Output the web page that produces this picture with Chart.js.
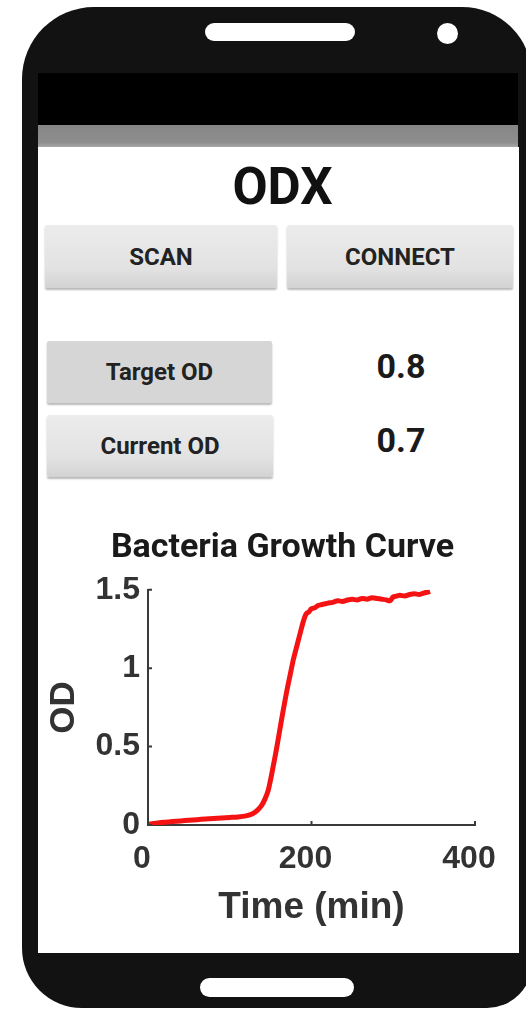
<!DOCTYPE html>
<html>
<head>
<meta charset="utf-8">
<title>ODX - Bacteria Growth Curve</title>
<script src="https://cdn.jsdelivr.net/npm/chart.js@4.4.1/dist/chart.umd.min.js"></script>
<style>
    html, body { margin: 0; padding: 0; background: #fff; overflow: hidden; }
    body { width: 526px; height: 1009px; position: relative; font-family: Roboto, 'Noto Sans', sans-serif; }
    .phone { position: absolute; left: 22px; top: 7px; width: 510px; height: 1001px; background: #121212;
             border-radius: 72px 70px 45px 60px; }
    .speaker { position: absolute; left: 205px; top: 23px; width: 150px; height: 18px; background: #fff; border-radius: 9px; }
    .camera { position: absolute; left: 437px; top: 23px; width: 21px; height: 21px; background: #fff; border-radius: 50%; }
    .status-bar { position: absolute; left: 38px; top: 73px; width: 480px; height: 52px; background: #000; }
    .action-bar { position: absolute; left: 38px; top: 125px; width: 480px; height: 22px; background: linear-gradient(#868686, #8e8e8e 80%, #a8a8a8); }
    .screen { position: absolute; left: 38px; top: 147px; width: 481px; height: 806px; background: #fff; }
    .home { position: absolute; left: 200px; top: 978px; width: 154px; height: 19px; background: #fff; border-radius: 10px; }
    .app-title { position: absolute; left: 180px; top: 158px; width: 205px; text-align: center; font: bold 51px Roboto, sans-serif; color: #111; line-height: 58px; }
    .btn { position: absolute; display: flex; align-items: center; justify-content: center;
           font: bold 24px Roboto, sans-serif; color: #222;
           background: linear-gradient(#ececec, #e2e2e2 70%, #d2d2d2);
           box-shadow: 0 2px 2px rgba(0,0,0,0.28); border-radius: 2px; }
    .btn.flat { background: #d6d6d6; }
    .value { position: absolute; width: 120px; text-align: center; font: bold 34px Roboto, sans-serif; color: #1a1a1a; }
    .chart-box { position: absolute; left: 40px; top: 520px; width: 485px; height: 420px; }
</style>
</head>
<body>
<div class="phone"></div>
<div class="speaker"></div>
<div class="camera"></div>
<div class="status-bar"></div>
<div class="action-bar"></div>
<div class="screen"></div>
<div class="home"></div>

<div class="app-title">ODX</div>
<div class="btn" style="left:45px; top:225px; width:232px; height:63px;">SCAN</div>
<div class="btn" style="left:287px; top:225px; width:226px; height:63px;">CONNECT</div>
<div class="btn flat" style="left:47px; top:341px; width:225px; height:62px;">Target OD</div>
<div class="btn" style="left:47px; top:415px; width:226px; height:62px;">Current OD</div>
<div class="value" style="left:341px; top:346px;">0.8</div>
<div class="value" style="left:341px; top:420px;">0.7</div>

<div class="chart-box"><canvas id="growthChart"></canvas></div>

<script>
// growth curve (time in minutes, optical density)
const timeMin = [0, 10, 20, 30, 40, 50, 60, 70, 80, 90, 100, 110, 120, 128, 134, 139, 143, 147, 150, 153,
    157, 161, 165, 170, 174, 178, 182, 186, 189, 192, 194, 197, 200, 204, 208, 212, 216, 220, 226, 232,
    238, 244, 250, 256, 262, 268, 274, 280, 286, 292, 296, 300, 304, 308, 314, 320, 326, 332, 338, 342, 345];
const odValues = [0.005, 0.012, 0.018, 0.022, 0.026, 0.03, 0.034, 0.038, 0.042, 0.045, 0.048, 0.051, 0.058, 0.072, 0.095, 0.125, 0.165, 0.22, 0.29, 0.37,
    0.48, 0.6, 0.72, 0.86, 0.96, 1.06, 1.14, 1.22, 1.28, 1.33, 1.35, 1.36, 1.38, 1.385, 1.40, 1.405, 1.41, 1.415, 1.42, 1.43,
    1.425, 1.435, 1.44, 1.435, 1.445, 1.44, 1.45, 1.445, 1.44, 1.435, 1.43, 1.455, 1.46, 1.465, 1.46, 1.47, 1.475, 1.47, 1.48, 1.485, 1.49];

const xTicks = [0, 200, 400];
const yTicks = [0, 0.5, 1, 1.5];
const xTickLabels = ['0', '200', '400'];
const yTickLabels = ['0', '0.5', '1', '1.5'];

const axisColor = '#3a3a3a';
const axisFont = { family: "'Liberation Sans', Arial, sans-serif", size: 32, weight: 'bold' };

// small tick marks pointing into the plot, like the original figure
const innerTicks = {
    id: 'innerTicks',
    afterDraw(chart) {
        const ctx = chart.ctx;
        const xs = chart.scales.x;
        const ys = chart.scales.y;
        ctx.save();
        ctx.strokeStyle = axisColor;
        ctx.lineWidth = 2;
        ctx.beginPath();
        xTicks.forEach(v => {
            const px = xs.getPixelForValue(v);
            ctx.moveTo(px, xs.top);
            ctx.lineTo(px, xs.top - 4);
        });
        yTicks.forEach(v => {
            const py = ys.getPixelForValue(v);
            ctx.moveTo(ys.right, py);
            ctx.lineTo(ys.right + 4, py);
        });
        ctx.stroke();
        ctx.restore();
    }
};

const ctx = document.getElementById('growthChart').getContext('2d');
const growthChart = new Chart(ctx, {
    type: 'line',
    data: {
        datasets: [{
            label: 'OD',
            data: timeMin.map((t, i) => ({ x: t, y: odValues[i] })),
            borderColor: '#f51212',
            borderWidth: 5,
            pointRadius: 0,
            tension: 0.2,
            fill: false
        }]
    },
    options: {
        responsive: true,
        maintainAspectRatio: false,
        animation: false,
        layout: { padding: 0 },
        plugins: {
            legend: { display: false },
            tooltip: { enabled: false },
            title: {
                display: true,
                text: 'Bacteria Growth Curve',
                color: '#1a1a1a',
                font: { family: 'Roboto, sans-serif', size: 34, weight: 'bold' },
                padding: { top: 8, bottom: 21 }
            }
        },
        scales: {
            x: {
                type: 'linear',
                min: 0,
                max: 400,
                afterBuildTicks: (scale) => { scale.ticks = xTicks.map(v => ({ value: v })); },
                afterFit: (scale) => { scale.height = 115; },
                grid: { display: true, drawOnChartArea: false, drawTicks: false },
                border: { display: true, color: axisColor, width: 2 },
                ticks: {
                    color: '#333',
                    font: axisFont,
                    padding: 15,
                    labelOffset: -6,
                    callback: (value) => xTickLabels[xTicks.indexOf(value)]
                },
                title: {
                    display: true,
                    text: 'Time (min)',
                    color: '#333',
                    font: { family: "'Liberation Sans', Arial, sans-serif", size: 37, weight: 'bold' },
                    padding: { top: 0, bottom: 10 }
                }
            },
            y: {
                type: 'linear',
                min: 0,
                max: 1.5,
                afterBuildTicks: (scale) => { scale.ticks = yTicks.map(v => ({ value: v })); },
                afterFit: (scale) => { scale.width = 108; },
                grid: { display: true, drawOnChartArea: false, drawTicks: false },
                border: { display: true, color: axisColor, width: 2 },
                ticks: {
                    color: '#333',
                    font: axisFont,
                    padding: 8,
                    callback: (value) => yTickLabels[yTicks.indexOf(value)]
                },
                title: {
                    display: true,
                    text: 'OD',
                    color: '#333',
                    font: { family: "'Liberation Sans', Arial, sans-serif", size: 35, weight: 'bold' },
                    padding: { top: 3, bottom: 0 }
                }
            },
            // empty axis on the right, only keeps the plot narrower than the title
            yRight: {
                type: 'linear',
                position: 'right',
                afterFit: (scale) => { scale.width = 50; },
                grid: { display: false },
                border: { display: false },
                ticks: { display: false }
            }
        }
    },
    plugins: [innerTicks]
});
</script>
</body>
</html>
